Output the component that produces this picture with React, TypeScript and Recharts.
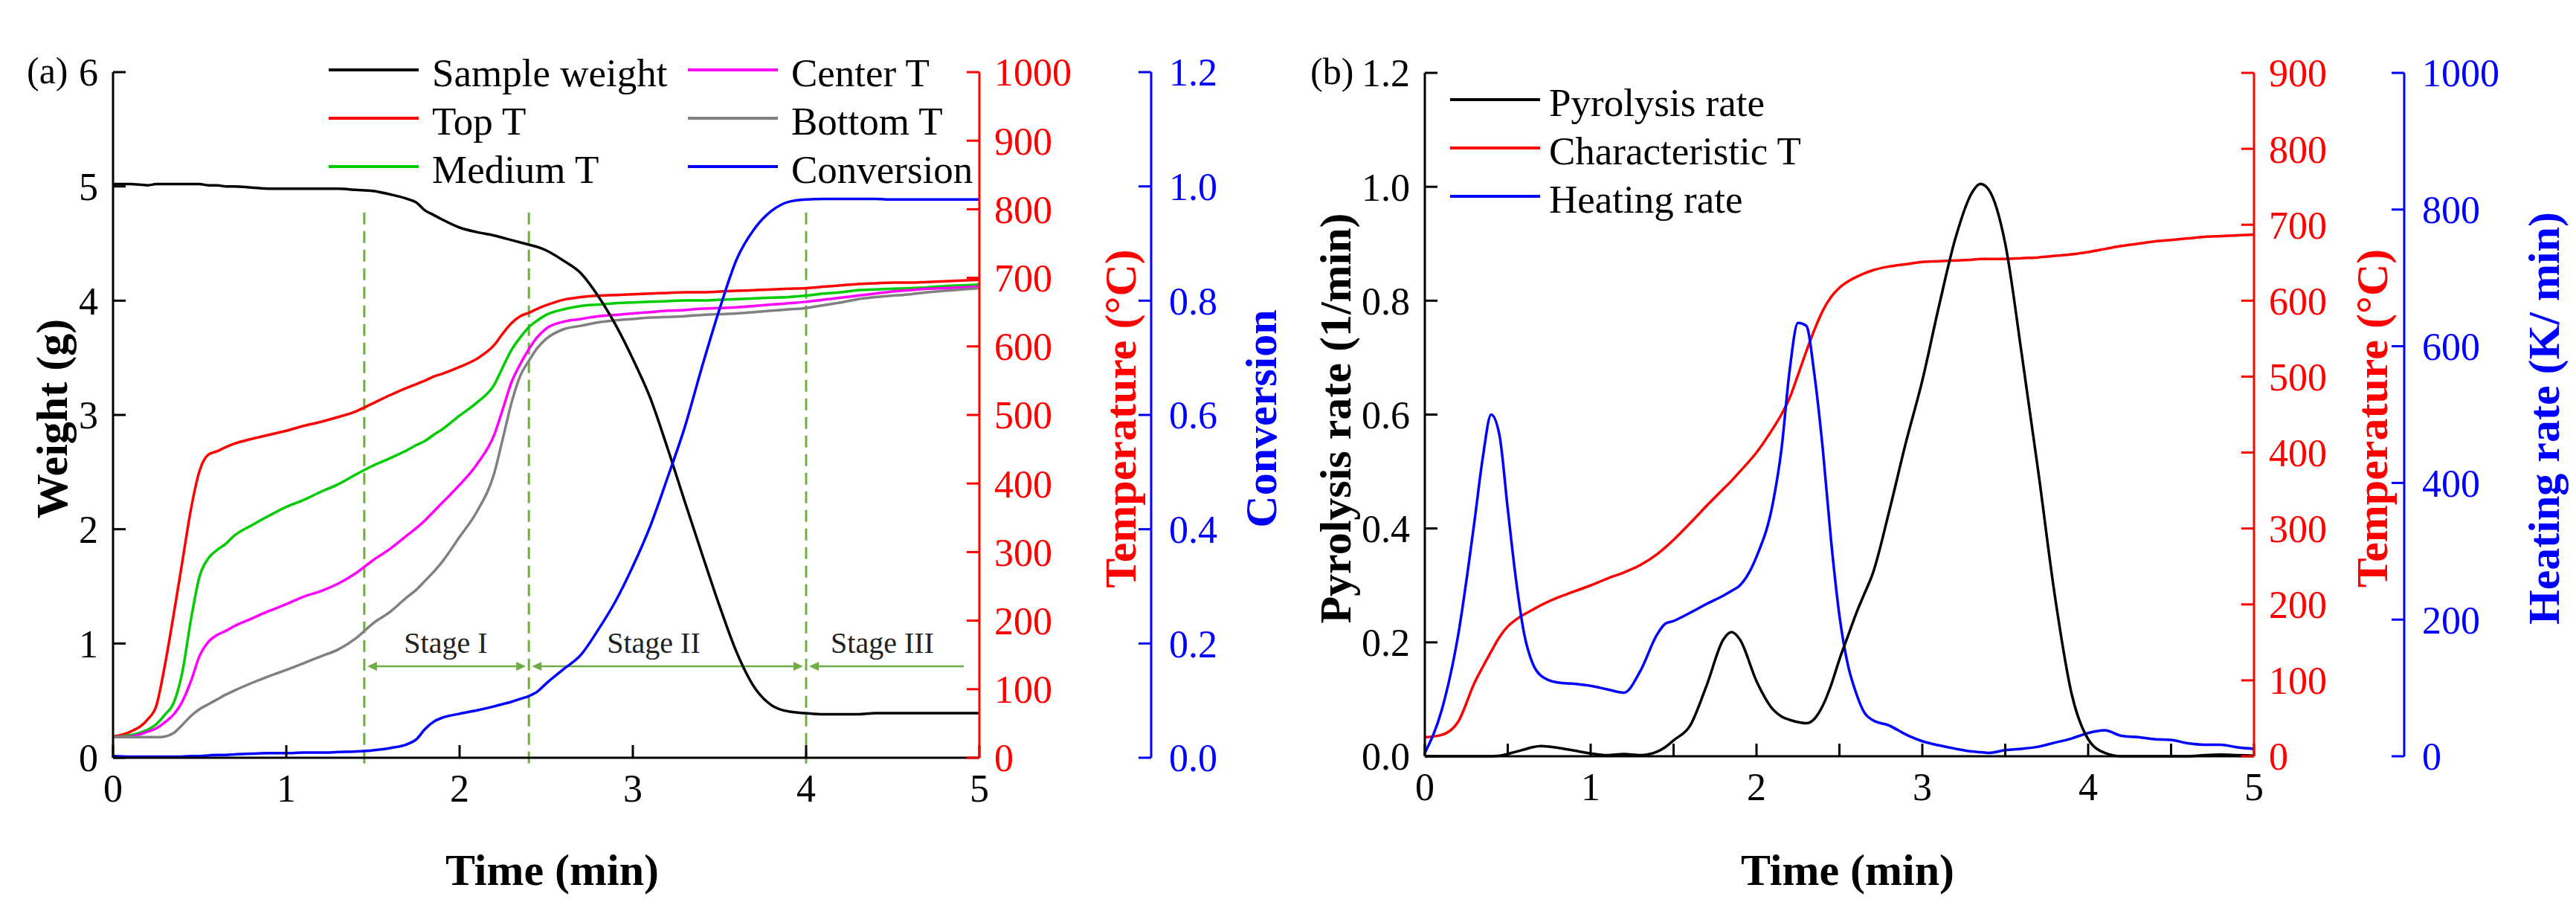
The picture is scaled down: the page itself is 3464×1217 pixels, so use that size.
import React from 'react';
import { LineChart, Line, XAxis, YAxis, ReferenceLine, ReferenceDot, Legend } from 'recharts';

const FONT = '"Liberation Serif", "Times New Roman", Times, serif';
const GREEN = '#70AD47';

// ---------- (a) sample weight, bed temperatures, conversion ----------
const timeA = [
  0, 0.1, 0.2, 0.25, 0.3, 0.35, 0.4, 0.45, 0.5, 0.55, 0.6, 0.65, 0.7, 0.8, 0.9, 1.0, 1.1, 1.2, 1.3, 1.4,
  1.5, 1.6, 1.7, 1.75, 1.8, 1.85, 1.9, 2.0, 2.1, 2.2, 2.25, 2.3, 2.35, 2.4, 2.45, 2.5, 2.6, 2.7, 2.8, 2.9,
  3.0, 3.1, 3.2, 3.3, 3.4, 3.5, 3.6, 3.7, 3.8, 3.9, 4.0, 4.1, 4.2, 4.3, 4.4, 4.5, 4.6, 4.7, 4.8, 4.9, 5.0,
];
const sampleWeight = [
  5.02, 5.02, 5.01, 5.02, 5.02, 5.02, 5.02, 5.02, 5.02, 5.01, 5.01, 5.0, 5.0, 4.99, 4.98, 4.98, 4.98, 4.98, 4.98, 4.97,
  4.96, 4.93, 4.89, 4.86, 4.79, 4.75, 4.71, 4.64, 4.6, 4.57, 4.55, 4.53, 4.51, 4.49, 4.47, 4.44, 4.35, 4.24, 4.04, 3.79,
  3.49, 3.15, 2.71, 2.24, 1.78, 1.33, 0.92, 0.62, 0.46, 0.405, 0.39, 0.38, 0.38, 0.38, 0.39, 0.39, 0.39, 0.39, 0.39, 0.39, 0.39,
];
const topT = [
  31, 38, 56, 76, 136, 209, 286, 363, 419, 442, 447, 453, 458, 465, 471, 477, 484, 490, 497, 505,
  517, 529, 540, 545, 550, 556, 560, 570, 582, 602, 619, 634, 644, 649, 655, 660, 668, 672, 674, 675,
  676, 677, 678, 679, 679, 680, 681, 682, 683, 684, 685, 687, 689, 691, 692, 693, 693, 694, 695, 696, 697,
];
const mediumT = [
  30, 33, 41, 49, 63, 80, 125, 202, 265, 291, 303, 312, 324, 339, 353, 366, 376, 388, 399, 413,
  426, 437, 449, 456, 462, 471, 479, 499, 518, 544, 570, 595, 613, 628, 638, 646, 654, 659, 661, 663,
  664, 665, 666, 667, 667, 668, 669, 670, 671, 672, 674, 677, 679, 682, 683, 684, 685, 686, 688, 689, 690,
];
const centerT = [
  30, 31, 38, 43, 52, 63, 82, 112, 149, 169, 179, 185, 192, 203, 214, 224, 235, 243, 254, 269,
  288, 305, 325, 335, 346, 359, 372, 398, 428, 471, 509, 548, 574, 596, 614, 626, 636, 640, 644, 646,
  648, 650, 652, 653, 655, 656, 657, 659, 661, 663, 665, 668, 671, 674, 677, 680, 682, 684, 685, 686, 687,
];
const bottomT = [
  30, 30, 30, 30, 31, 36, 48, 61, 71, 78, 85, 92, 98, 109, 119, 128, 138, 148, 158, 174,
  196, 213, 235, 245, 258, 271, 286, 322, 359, 415, 466, 518, 557, 579, 598, 611, 625, 630, 635, 638,
  640, 642, 643, 644, 646, 647, 648, 650, 652, 654, 656, 660, 664, 669, 672, 674, 676, 679, 681, 683, 685,
];
const conversion = [
  0.003, 0.002, 0.002, 0.002, 0.002, 0.002, 0.002, 0.003, 0.003, 0.004, 0.005, 0.005, 0.006, 0.007, 0.008, 0.008, 0.009, 0.009, 0.01, 0.011,
  0.013, 0.017, 0.024, 0.032, 0.05, 0.063, 0.07, 0.077, 0.083, 0.09, 0.094, 0.098, 0.103, 0.108, 0.116, 0.13, 0.155, 0.18, 0.224, 0.274,
  0.335, 0.405, 0.49, 0.579, 0.685, 0.785, 0.873, 0.925, 0.957, 0.973, 0.977, 0.978, 0.978, 0.978, 0.978, 0.977, 0.977, 0.977, 0.977, 0.977, 0.977,
];

const stageBounds = [1.45, 2.4, 4.0, 4.91];
const stageNames = ['Stage I', 'Stage II', 'Stage III'];
const stageLabelAt = [1.92, 3.12, 4.44];
const stageArrowLevel = 0.8;
const stageLineTop = 4.79;

const timeTicksA = [0, 1, 2, 3, 4, 5];
const weightTicks = [0, 1, 2, 3, 4, 5, 6];
const tempTicksA = [0, 100, 200, 300, 400, 500, 600, 700, 800, 900, 1000];
const convTicks = [0, 0.2, 0.4, 0.6, 0.8, 1.0, 1.2];
const legendOrderA = ['Sample weight', 'Top T', 'Medium T', 'Center T', 'Bottom T', 'Conversion'];

// ---------- (b) pyrolysis rate, characteristic T, heating rate ----------
const timeB = [
  0, 0.1, 0.2, 0.3, 0.35, 0.4, 0.45, 0.5, 0.55, 0.6, 0.65, 0.7, 0.8, 0.9, 1.0, 1.1, 1.2, 1.3, 1.4, 1.45,
  1.5, 1.6, 1.7, 1.8, 1.85, 1.9, 2.0, 2.1, 2.15, 2.2, 2.25, 2.3, 2.35, 2.4, 2.45, 2.5, 2.55, 2.6, 2.65, 2.7,
  2.8, 2.9, 3.0, 3.1, 3.2, 3.3, 3.35, 3.4, 3.5, 3.6, 3.7, 3.8, 3.9, 4.0, 4.1, 4.2, 4.3, 4.4, 4.5, 4.6,
  4.7, 4.8, 4.9, 5.0,
];
const pyrolysisRate = [
  0, 0, 0, 0, 0, 0, 0.001, 0.004, 0.008, 0.012, 0.016, 0.018, 0.015, 0.01, 0.005, 0.002, 0.004, 0.002, 0.008, 0.016,
  0.028, 0.054, 0.125, 0.205, 0.218, 0.205, 0.132, 0.082, 0.07, 0.064, 0.06, 0.058, 0.066, 0.089, 0.125, 0.17, 0.21, 0.25, 0.285, 0.32,
  0.43, 0.55, 0.66, 0.79, 0.91, 0.99, 1.005, 0.995, 0.9, 0.705, 0.498, 0.28, 0.11, 0.03, 0.006, 0, 0, 0, 0, 0,
  0.002, 0.003, 0.002, 0.001,
];
const characteristicT = [
  25, 28, 45, 97, 118, 138, 157, 171, 180, 187, 193, 199, 209, 217, 225, 234, 242, 252, 266, 275,
  285, 307, 330, 352, 363, 375, 400, 432, 450, 472, 502, 533, 562, 587, 605, 617, 625, 631, 636, 640,
  645, 648, 651, 652, 653, 654, 655, 655, 655, 656, 657, 659, 661, 664, 668, 672, 675, 678, 680, 682,
  684, 685, 686, 687,
];
const heatingRate = [
  5, 66, 176, 345, 438, 500, 470, 362, 258, 178, 136, 118, 108, 106, 103, 98, 93, 125, 178, 194,
  198, 210, 223, 235, 242, 250, 292, 372, 448, 565, 634, 630, 557, 449, 315, 206, 135, 93, 64, 53,
  45, 32, 22, 16, 11, 7, 6, 5, 9, 11, 14, 20, 26, 34, 38, 30, 28, 25, 24, 19,
  17, 17, 13, 11,
];

const timeTicksB = [0, 0.5, 1, 1.5, 2, 2.5, 3, 3.5, 4, 4.5, 5];
const rateTicks = [0, 0.2, 0.4, 0.6, 0.8, 1.0, 1.2];
const tempTicksB = [0, 100, 200, 300, 400, 500, 600, 700, 800, 900];
const heatingTicks = [0, 200, 400, 600, 800, 1000];
const legendOrderB = ['Pyrolysis rate', 'Characteristic T', 'Heating rate'];

const dataA = timeA.map((t, i) => ({
  t,
  weight: sampleWeight[i],
  top: topT[i],
  medium: mediumT[i],
  center: centerT[i],
  bottom: bottomT[i],
  conv: conversion[i],
}));

const dataB = timeB.map((t, i) => ({
  t,
  rate: pyrolysisRate[i],
  temp: characteristicT[i],
  heating: heatingRate[i],
}));

const oneDecimal = (v: number) => v.toFixed(1);

// rotated axis title, centred on the axis box
const vTitle = (text: string, color: string, dx: number) => (props: any) => {
  const vb = props.viewBox;
  const cx = vb.x + dx;
  const cy = vb.y + vb.height / 2 + 5;
  return (
    <text
      x={cx}
      y={cy}
      transform={`rotate(-90 ${cx} ${cy})`}
      textAnchor="middle"
      dominantBaseline="central"
      fill={color}
      fontFamily={FONT}
      fontWeight="bold"
      fontSize={60}
    >
      {text}
    </text>
  );
};

const hTitle = (text: string, dy: number, dx: number) => (props: any) => {
  const vb = props.viewBox;
  return (
    <text
      x={vb.x + vb.width / 2 + dx}
      y={vb.y + dy}
      textAnchor="middle"
      dominantBaseline="central"
      fill="#000"
      fontFamily={FONT}
      fontWeight="bold"
      fontSize={60}
    >
      {text}
    </text>
  );
};

const legendContent = (order: string[], colWidth: number, gap: number) => (props: any) => {
  const items = [...(props.payload || [])].sort(
    (a: any, b: any) => order.indexOf(a.value) - order.indexOf(b.value)
  );
  return (
    <div
      style={{
        display: 'grid',
        gridTemplateRows: 'repeat(3, 65px)',
        gridAutoFlow: 'column',
        gridAutoColumns: `${colWidth}px`,
      }}
    >
      {items.map((it: any) => (
        <div key={it.value} style={{ display: 'flex', alignItems: 'center' }}>
          <span
            style={{
              display: 'inline-block',
              width: 121,
              height: 4,
              background: it.color,
              marginRight: gap,
              transform: 'translateY(-4px)',
            }}
          />
          <span style={{ fontFamily: FONT, fontSize: 53, lineHeight: '65px', whiteSpace: 'nowrap', color: '#000' }}>
            {it.value}
          </span>
        </div>
      ))}
    </div>
  );
};

// double-headed (or left-headed) stage arrow
const arrowShape = (headLeft: boolean, headRight: boolean) => (p: any) => {
  const { x1, y1, x2 } = p;
  const l = x1 + 4;
  const r = x2 - 4;
  const len = 13;
  const half = 6;
  return (
    <g>
      <line x1={headLeft ? l + 4 : x1} y1={y1} x2={headRight ? r - 4 : x2} y2={y1} stroke={GREEN} strokeWidth={2.5} />
      {headLeft && <polygon points={`${l},${y1} ${l + len},${y1 - half} ${l + len},${y1 + half}`} fill={GREEN} />}
      {headRight && <polygon points={`${r},${y1} ${r - len},${y1 - half} ${r - len},${y1 + half}`} fill={GREEN} />}
    </g>
  );
};

const tickFont = { fontSize: 52, fontFamily: FONT };
const axisStroke = (c: string) => ({ stroke: c, strokeWidth: 3 });

function PanelA() {
  return (
    <div style={{ position: 'relative', width: 1752, height: 1201 }}>
      <LineChart width={1752} height={1201} data={dataA} margin={{ top: 89, right: 0, bottom: 0, left: 0 }}>
        <XAxis
          dataKey="t"
          type="number"
          domain={[0, 5]}
          ticks={timeTicksA}
          interval={0}
          height={190}
          tickSize={-17}
          tickMargin={39}
          axisLine={axisStroke('#000')}
          tickLine={axisStroke('#000')}
          tick={{ ...tickFont, fill: '#000' }}
          label={hTitle('Time (min)', 151, 8)}
        />
        <YAxis
          yAxisId="l1"
          orientation="left"
          width={144}
          domain={[0, 6]}
          ticks={weightTicks}
          interval={0}
          tickSize={-17}
          tickMargin={37}
          axisLine={axisStroke('#000')}
          tickLine={axisStroke('#000')}
          tick={{ ...tickFont, fill: '#000' }}
          label={vTitle('Weight (g)', '#000', 62)}
        />
        {/* outer right axis declared first, axis next to the plot declared last */}
        <YAxis
          yAxisId="r2"
          orientation="right"
          width={212}
          domain={[0, 1.2]}
          ticks={convTicks}
          interval={0}
          tickSize={-17}
          tickMargin={41}
          tickFormatter={oneDecimal}
          axisLine={axisStroke('#0000FF')}
          tickLine={axisStroke('#0000FF')}
          tick={{ ...tickFont, fill: '#0000FF' }}
          label={vTitle('Conversion', '#0000FF', 148)}
        />
        <YAxis
          yAxisId="r1"
          orientation="right"
          width={231}
          domain={[0, 1000]}
          ticks={tempTicksA}
          interval={0}
          tickSize={-17}
          tickMargin={37}
          axisLine={axisStroke('#FF0000')}
          tickLine={axisStroke('#FF0000')}
          tick={{ ...tickFont, fill: '#FF0000' }}
          label={vTitle('Temperature (°C)', '#FF0000', 190)}
        />
        <Legend
          layout="horizontal"
          verticalAlign="middle"
          align="center"
          wrapperStyle={{ left: 434, top: 57.5, width: 'auto' }}
          content={legendContent(legendOrderA, 483, 18)}
        />

        {stageBounds.slice(0, 3).map((x) => (
          <ReferenceLine
            key={`v${x}`}
            yAxisId="l1"
            segment={[{ x, y: -0.05 }, { x, y: stageLineTop }]}
            stroke={GREEN}
            strokeWidth={3}
            strokeDasharray="16 9"
            ifOverflow="visible"
          />
        ))}
        {stageNames.map((name, i) => (
          <ReferenceLine
            key={`a${name}`}
            yAxisId="l1"
            segment={[
              { x: stageBounds[i], y: stageArrowLevel },
              { x: stageBounds[i + 1], y: stageArrowLevel },
            ]}
            shape={arrowShape(true, i < stageNames.length - 1)}
            ifOverflow="visible"
          />
        ))}
        {stageNames.map((name, i) => (
          <ReferenceDot
            key={`l${name}`}
            yAxisId="l1"
            x={stageLabelAt[i]}
            y={stageArrowLevel}
            r={1}
            fill="none"
            stroke="none"
            label={{ value: name, position: 'top', offset: 17, fill: '#222', fontSize: 40, fontFamily: FONT }}
          />
        ))}

        <Line yAxisId="r1" dataKey="top" name="Top T" type="monotone" stroke="#FF0000" strokeWidth={3.5} dot={false} isAnimationActive={false} />
        <Line yAxisId="r1" dataKey="medium" name="Medium T" type="monotone" stroke="#00CC00" strokeWidth={3.5} dot={false} isAnimationActive={false} />
        <Line yAxisId="r1" dataKey="center" name="Center T" type="monotone" stroke="#FF00FF" strokeWidth={3.5} dot={false} isAnimationActive={false} />
        <Line yAxisId="r1" dataKey="bottom" name="Bottom T" type="monotone" stroke="#808080" strokeWidth={3.5} dot={false} isAnimationActive={false} />
        <Line yAxisId="l1" dataKey="weight" name="Sample weight" type="monotone" stroke="#000000" strokeWidth={3.5} dot={false} isAnimationActive={false} />
        <Line yAxisId="r2" dataKey="conv" name="Conversion" type="monotone" stroke="#0000FF" strokeWidth={3.5} dot={false} isAnimationActive={false} />
      </LineChart>
      <div style={{ position: 'absolute', left: 28, top: 62, fontFamily: FONT, fontSize: 50, lineHeight: '50px', color: '#000' }}>
        (a)
      </div>
    </div>
  );
}

function PanelB() {
  return (
    <div style={{ position: 'relative', width: 1696, height: 1201 }}>
      <LineChart width={1696} height={1201} data={dataB} margin={{ top: 90, right: 0, bottom: 0, left: 0 }}>
        <XAxis
          dataKey="t"
          type="number"
          domain={[0, 5]}
          ticks={timeTicksB}
          interval={0}
          height={192}
          tickSize={-17}
          tickMargin={39}
          tickFormatter={(v: number) => (Number.isInteger(v) ? String(v) : '')}
          axisLine={axisStroke('#000')}
          tickLine={axisStroke('#000')}
          tick={{ ...tickFont, fill: '#000' }}
          label={hTitle('Time (min)', 153, 11)}
        />
        <YAxis
          yAxisId="l1"
          orientation="left"
          width={156}
          domain={[0, 1.2]}
          ticks={rateTicks}
          interval={0}
          tickSize={-17}
          tickMargin={37}
          tickFormatter={oneDecimal}
          axisLine={axisStroke('#000')}
          tickLine={axisStroke('#000')}
          tick={{ ...tickFont, fill: '#000' }}
          label={vTitle('Pyrolysis rate (1/min)', '#000', 36)}
        />
        <YAxis
          yAxisId="r2"
          orientation="right"
          width={223}
          domain={[0, 1000]}
          ticks={heatingTicks}
          interval={0}
          tickSize={-17}
          tickMargin={41}
          axisLine={axisStroke('#0000FF')}
          tickLine={axisStroke('#0000FF')}
          tick={{ ...tickFont, fill: '#0000FF' }}
          label={vTitle('Heating rate (K/ min)', '#0000FF', 188)}
        />
        <YAxis
          yAxisId="r1"
          orientation="right"
          width={202}
          domain={[0, 900]}
          ticks={tempTicksB}
          interval={0}
          tickSize={-17}
          tickMargin={37}
          axisLine={axisStroke('#FF0000')}
          tickLine={axisStroke('#FF0000')}
          tick={{ ...tickFont, fill: '#FF0000' }}
          label={vTitle('Temperature (°C)', '#FF0000', 159)}
        />
        <Legend
          layout="horizontal"
          verticalAlign="middle"
          align="center"
          wrapperStyle={{ left: 190, top: 97.5, width: 'auto' }}
          content={legendContent(legendOrderB, 600, 12)}
        />
        <Line yAxisId="r1" dataKey="temp" name="Characteristic T" type="monotone" stroke="#FF0000" strokeWidth={3.5} dot={false} isAnimationActive={false} />
        <Line yAxisId="r2" dataKey="heating" name="Heating rate" type="monotone" stroke="#0000FF" strokeWidth={3.5} dot={false} isAnimationActive={false} />
        <Line yAxisId="l1" dataKey="rate" name="Pyrolysis rate" type="monotone" stroke="#000000" strokeWidth={3.5} dot={false} isAnimationActive={false} />
      </LineChart>
      <div style={{ position: 'absolute', left: 2, top: 63, fontFamily: FONT, fontSize: 50, lineHeight: '50px', color: '#000' }}>
        (b)
      </div>
    </div>
  );
}

export default function App() {
  return (
    <div style={{ display: 'flex', width: 3448, height: 1201, background: '#fff' }}>
      <PanelA />
      <PanelB />
    </div>
  );
}
